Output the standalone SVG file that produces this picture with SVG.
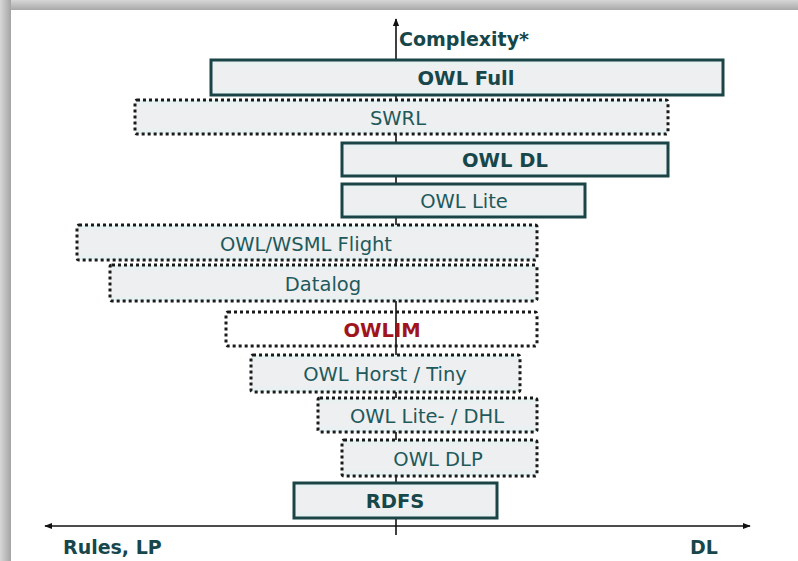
<svg xmlns="http://www.w3.org/2000/svg" width="798" height="561" viewBox="0 0 798 561">
  <defs>
    <linearGradient id="shadeTop" x1="0" y1="0" x2="0" y2="1">
      <stop offset="0" stop-color="#d6d6d6"/>
      <stop offset="1" stop-color="#a9a9a9"/>
    </linearGradient>
    <linearGradient id="shadeLeft" x1="0" y1="0" x2="1" y2="0">
      <stop offset="0" stop-color="#d8d8d8"/>
      <stop offset="1" stop-color="#a4a4a4"/>
    </linearGradient>
    <linearGradient id="boxFill" x1="0" y1="0" x2="0" y2="1">
      <stop offset="0" stop-color="#e4f2f2"/>
      <stop offset="0.2" stop-color="#eeeff0"/>
      <stop offset="0.8" stop-color="#eeeff0"/>
      <stop offset="1" stop-color="#e4f2f2"/>
    </linearGradient>
    <marker id="arrow" viewBox="0 0 10 10" refX="9" refY="5" markerWidth="8" markerHeight="8" markerUnits="userSpaceOnUse" orient="auto">
      <path d="M0,1 L10,5 L0,9 Z" fill="#111"/>
    </marker>
  </defs>
  <style>
    .solid { fill: url(#boxFill); stroke: #1b4446; stroke-width: 3; }
    .dotted { fill: url(#boxFill); stroke: #1a1a1a; stroke-width: 3; stroke-dasharray: 3 3; }
    .open { fill: #ffffff; }
    .lbl { font-family: "DejaVu Sans", Verdana, sans-serif; font-size: 19.5px; fill: #1e5a5c; text-anchor: middle; }
    .b { font-weight: bold; fill: #17474a; }
    .red { fill: #a0151c; }
    .axis { stroke: #111; stroke-width: 1.6; fill: none; }
    .axlbl { font-family: "DejaVu Sans", Verdana, sans-serif; font-size: 19px; font-weight: bold; fill: #17474a; }
  </style>

  <!-- page frame with soft shadow -->
  <rect x="0" y="0" width="798" height="561" fill="#ffffff"/>
  <rect x="0" y="0" width="798" height="10" fill="url(#shadeTop)"/>
  <rect x="0" y="0" width="11" height="561" fill="url(#shadeLeft)"/>

  <!-- axes -->
  <g id="connectors">
    <line class="axis" x1="396" y1="535" x2="396" y2="19" marker-end="url(#arrow)"/>
    <line class="axis" x1="396" y1="526" x2="45" y2="526" marker-end="url(#arrow)"/>
    <line class="axis" x1="396" y1="526" x2="750" y2="526" marker-end="url(#arrow)"/>
  </g>

  <g id="owl-full">
    <rect class="solid" x="211" y="60" width="512" height="35"/>
    <text class="lbl b" x="466" y="85">OWL Full</text>
  </g>
  <g id="swrl">
    <rect class="dotted" x="135" y="100" width="533" height="34" rx="2"/>
    <text class="lbl" x="398" y="125">SWRL</text>
  </g>
  <g id="owl-dl">
    <rect class="solid" x="342" y="143" width="326" height="33"/>
    <text class="lbl b" x="505" y="167">OWL DL</text>
  </g>
  <g id="owl-lite">
    <rect class="solid" x="342" y="184" width="243" height="33"/>
    <text class="lbl" x="464" y="208">OWL Lite</text>
  </g>
  <g id="owl-wsml-flight">
    <rect class="dotted" x="77" y="225" width="460" height="35" rx="2"/>
    <text class="lbl" x="306" y="251">OWL/WSML Flight</text>
  </g>
  <g id="datalog">
    <rect class="dotted" x="110" y="265" width="427" height="36" rx="2"/>
    <text class="lbl" x="323" y="291">Datalog</text>
  </g>
  <g id="owlim">
    <rect class="dotted open" x="226" y="312" width="311" height="34" rx="2"/>
    <line class="axis" x1="396" y1="312" x2="396" y2="346"/>
    <text class="lbl b red" x="382" y="337">OWLIM</text>
  </g>
  <g id="owl-horst-tiny">
    <rect class="dotted" x="251" y="355" width="269" height="37" rx="2"/>
    <text class="lbl" x="385" y="381">OWL Horst / Tiny</text>
  </g>
  <g id="owl-lite-dhl">
    <rect class="dotted" x="318" y="398" width="219" height="34" rx="2"/>
    <text class="lbl" x="427" y="423">OWL Lite- / DHL</text>
  </g>
  <g id="owl-dlp">
    <rect class="dotted" x="342" y="440" width="195" height="36" rx="2"/>
    <text class="lbl" x="438" y="466">OWL DLP</text>
  </g>
  <g id="rdfs">
    <rect class="solid" x="294" y="483" width="203" height="35"/>
    <text class="lbl b" x="395" y="508">RDFS</text>
  </g>

  <!-- axis labels -->
  <text class="axlbl" x="399" y="46">Complexity*</text>
  <text class="axlbl" x="63" y="554">Rules, LP</text>
  <text class="axlbl" x="690" y="554">DL</text>
</svg>
